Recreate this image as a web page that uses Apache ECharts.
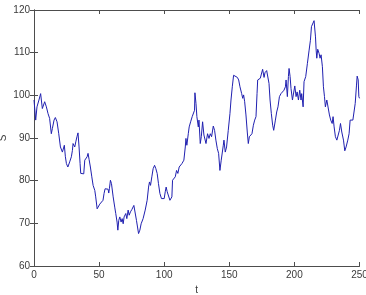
<!DOCTYPE html>
<html><head><meta charset="utf-8">
<script src="https://cdn.jsdelivr.net/npm/echarts@6/dist/echarts.min.js"></script>
<style>html,body{margin:0;padding:0;background:#fff}#c{width:366px;height:295px}</style>
</head><body><div id="c"></div>
<script>
var tVals = [0,1.3,2.3,3.8,5.1,6.4,8.2,9.5,10.8,12,13.3,14.1,15.4,16.4,17.7,19,20.3,21.8,22.8,23.3,24.1,24.9,26,27.4,28.7,29.5,30,31.3,32.1,33,33.8,34.6,35.4,35.9,37.2,38.2,39,39.7,40.8,41.5,42.3,43.3,44.4,45.4,46.7,47.4,48.5,49.7,50.5,51.8,53,53.8,54.6,55.6,56.9,57.4,57.9,58.7,59.5,60.8,62,62.8,63.8,64.4,65.1,65.9,66.9,67.7,68.5,69.2,70.5,71.3,72.3,73.1,74.1,75.1,76.7,77.4,78.7,80.3,81.3,82.3,83.8,85.4,86.9,88,88.7,89.5,90.5,91.5,92.6,93.6,94.6,95.6,96.7,97.9,99.2,100,100.8,101.5,102.3,103.1,104.4,105.1,105.9,106.4,107.4,108.5,109.5,110.5,111.5,112.3,113.6,114.6,115.1,116.2,116.7,117.4,118.5,119.2,120.3,121.5,122.8,123.3,123.6,124.4,125.1,126.2,126.7,127.7,128.5,129.5,130.5,132.1,133.3,134.4,135.4,136.4,137.7,138.7,139.7,140.8,141.8,142.8,143.8,145.4,145.9,146.9,147.9,149.2,150.5,151.3,152.3,153.3,154.6,156.2,157.2,158.2,159.5,160.3,161,161.8,162.8,163.8,164.6,165.4,166.4,167.4,168.5,169.5,170.5,171.3,171.8,172.8,173.8,174.6,175.6,176.7,177.4,178.7,179.7,180.5,181.3,182.3,183.3,184.1,185.4,186.4,187.4,188.5,189.7,191,192,193.1,193.6,194.6,195.4,195.9,196.7,197.4,198.5,199.5,200.3,201.3,202.1,203.1,204.1,205.1,205.6,206.7,207.4,208.7,210,211.3,212.3,213.1,213.8,214.6,215.1,216.2,216.7,217.2,217.9,219,219.7,220.5,221.5,222.3,223.1,223.8,224.9,225.9,226.9,227.9,229,229.7,230.5,231.5,232.6,233.6,234.6,235.4,236.4,237.7,238.7,239.7,241,242,242.8,243.8,244.9,245.9,246.7,247.7,248.2,249,249.5,250];
var sVals = [98.9,94.2,97.3,98.9,100.4,96.9,98.5,97.3,95.7,94.6,91.0,92.2,94.2,94.8,93.8,91.0,87.9,86.7,86.7,88.3,85.6,84.0,83.2,84.4,85.6,87.1,88.7,87.9,89.1,90.3,91.2,87.9,84.0,81.7,81.3,81.6,84.8,85.2,85.6,86.4,85.0,83.2,80.9,78.9,77.7,76.2,73.4,73.8,74.5,74.2,75.4,77.0,78.1,77.7,78.0,77.1,78.1,80.1,79.3,76.2,73.8,72.3,70.3,68.4,70.7,71.5,70.3,71.1,69.9,71.5,72.3,71.1,73.1,71.9,72.7,73.2,74.2,73.8,70.7,67.6,68.4,69.9,71.1,73.1,75.4,78.5,79.7,78.9,80.9,82.8,83.6,82.8,81.7,79.3,77.0,75.8,76.0,75.8,77.4,78.5,77.4,77.0,75.4,75.0,76.2,80.1,79.7,80.9,82.4,81.7,83.2,82.8,84.0,83.6,84.8,87.9,89.9,88.3,91.0,92.6,93.8,95.0,95.0,96.5,100.6,98.1,95.0,92.6,94.2,88.7,90.3,93.8,90.7,88.7,91.0,89.9,91.0,90.3,92.8,91.8,89.5,87.5,86.4,82.4,84.8,88.3,89.5,86.7,87.9,91.8,95.7,98.9,102.0,104.7,104.5,104.2,103.6,102.0,100.4,99.3,100.1,98.5,95.4,91.4,88.7,90.3,89.9,91.0,93.0,94.2,95.0,100.4,103.6,103.2,104.0,103.8,106.1,104.2,105.3,105.8,105.5,102.8,98.9,95.7,93.0,91.8,94.2,96.1,97.3,99.7,100.4,100.8,101.2,102.0,103.6,99.7,104.4,106.3,104.4,101.6,98.9,98.9,102.2,99.7,100.8,98.9,101.2,98.9,100.4,97.3,103.2,104.4,107.5,110.6,112.9,116.1,115.7,116.5,117.5,113.7,110.6,108.7,110.8,109.8,108.7,109.5,106.7,102.0,99.7,97.3,98.9,98.9,95.4,94.2,93.4,95.0,92.6,90.3,89.5,89.9,91.8,93.4,91.4,89.5,87.0,87.9,89.5,91.0,94.2,94.6,94.2,94.6,98.1,102.4,104.5,103.6,99.7,99.3];
var xTicks = [0,50,100,150,200,250];
var yTicks = [60,70,80,90,100,110,120];
var xName = 't';
var yName = 'S';

var pts = tVals.map(function(t,i){return [t,sVals[i]];});
var axCol = '#4d4d4d';
var lab = {color:'#3a3a3a', fontFamily:'Liberation Sans, Arial, sans-serif', fontSize:10};
var chart = echarts.init(document.getElementById('c'));
chart.setOption({
  animation:false,
  backgroundColor:'#fff',
  grid:{left:34,right:6.5,top:10,bottom:29,containLabel:false,outerBoundsMode:'none'},
  graphic:[{type:'text',x:3,y:138,rotation:Math.PI/2,
    style:{text:yName,fill:'#3a3a3a',font:'10px "Liberation Sans", Arial, sans-serif',align:'center',verticalAlign:'middle'}}],
  xAxis:[{type:'value',min:xTicks[0],max:xTicks[xTicks.length-1],interval:50,position:'bottom',
    name:xName,nameLocation:'middle',nameGap:15,nameTextStyle:lab,
    axisLine:{show:true,lineStyle:{color:axCol,width:1}},
    axisTick:{show:true,inside:true,length:4,lineStyle:{color:axCol}},
    axisLabel:Object.assign({margin:4},lab),splitLine:{show:false}},
   {type:'value',min:0,max:250,interval:50,position:'top',
    axisLine:{show:true,lineStyle:{color:axCol,width:1}},
    axisTick:{show:true,inside:true,length:4,lineStyle:{color:axCol}},
    axisLabel:{show:false},splitLine:{show:false}}],
  yAxis:[{type:'value',min:yTicks[0],max:yTicks[yTicks.length-1],interval:10,position:'left',
    axisLine:{show:true,lineStyle:{color:axCol,width:1}},
    axisTick:{show:true,inside:true,length:4,lineStyle:{color:axCol}},
    axisLabel:Object.assign({margin:4},lab),splitLine:{show:false}},
   {type:'value',min:60,max:120,interval:10,position:'right',
    axisLine:{show:true,lineStyle:{color:axCol,width:1}},
    axisTick:{show:true,inside:true,length:4,lineStyle:{color:axCol}},
    axisLabel:{show:false},splitLine:{show:false}}],
  series:[{type:'line',data:pts,showSymbol:false,symbol:'none',
    lineStyle:{color:'#2020b0',width:1},xAxisIndex:0,yAxisIndex:0}]
});
</script></body></html>
